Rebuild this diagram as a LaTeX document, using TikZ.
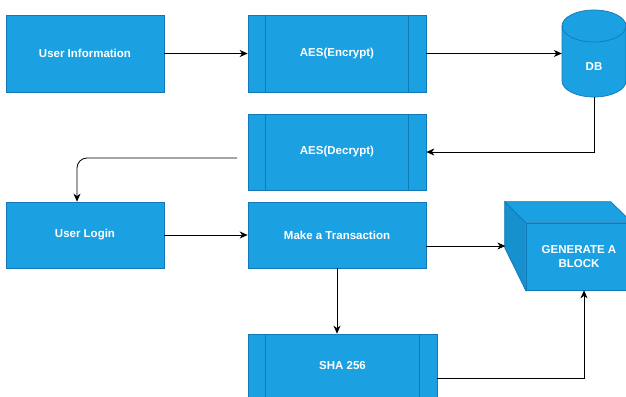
\documentclass[tikz,border=0pt]{standalone}
\usepackage{fontspec}
\setmainfont{Liberation Sans}
\usetikzlibrary{positioning,shapes.geometric,arrows.meta,calc}

\definecolor{boxblue}{HTML}{1BA1E2}
\definecolor{boxline}{HTML}{1278B8}
\definecolor{boxdark}{HTML}{1790CF}

\begin{document}
\begin{tikzpicture}[x=1pt,y=-1pt,
    box/.style={draw=boxline, fill=boxblue, text=white, line width=0.7pt,
        font=\bfseries\fontsize{11.5}{13.5}\selectfont, inner sep=0pt, align=center},
    procline/.style={draw=boxline, line width=0.7pt},
    flow/.style={-{Stealth[length=8pt,width=7pt,inset=2.5pt]}, line width=0.8pt}]
    \useasboundingbox (0,0) rectangle (626,396);

    % first row
    \node[box, minimum width=158pt, minimum height=77pt] (info) at (85,53.5) {User Information};
    \node[box, minimum width=178pt, minimum height=77pt] (enc) at (337,53.5) {AES(Encrypt)};
    \draw[procline] ([xshift=18pt]enc.north west) -- ([xshift=18pt]enc.south west);
    \draw[procline] ([xshift=-18pt]enc.north east) -- ([xshift=-18pt]enc.south east);

    % database
    \node[minimum width=64pt, minimum height=87pt, inner sep=0pt] (db) at (594,53.5) {};
    \filldraw[procline, fill=boxblue] (562,26) -- (562,81)
        arc[start angle=180, end angle=0, x radius=32, y radius=16] -- (626,26)
        arc[start angle=0, end angle=-180, x radius=32, y radius=16] -- cycle;
    \draw[procline] (562,26) arc[start angle=180, end angle=0, x radius=32, y radius=16];
    \node[text=white, font=\bfseries\fontsize{11.5}{13.5}\selectfont] (dbtext) at (594,67) {DB};

    % decrypt
    \node[box, minimum width=178pt, minimum height=76pt] (dec) at (337,152) {AES(Decrypt)};
    \draw[procline] ([xshift=18pt]dec.north west) -- ([xshift=18pt]dec.south west);
    \draw[procline] ([xshift=-18pt]dec.north east) -- ([xshift=-18pt]dec.south east);
    \coordinate (decout) at (237,158);

    % second row
    \node[box, minimum width=158pt, minimum height=66pt] (login) at (85,235) {User Login};
    \node[box, minimum width=178pt, minimum height=66pt] (trans) at (337,235) {Make a Transaction};

    % cube
    \node[box, minimum width=106pt, minimum height=67pt] (block) at (579,256.5) {GENERATE A\\BLOCK};
    \filldraw[procline, fill=boxdark] (block.north west) -- ++(-21,-21) -- ++(0,46)
        -- (block.south west) -- cycle;
    \filldraw[procline, fill=boxblue] (block.north west) -- ++(-21,-21) -- ++(106,0)
        -- (block.north east) -- cycle;

    % hash
    \node[box, minimum width=189pt, minimum height=64pt] (sha) at (342.5,366) {SHA 256};
    \draw[procline] ([xshift=18pt]sha.north west) -- ([xshift=18pt]sha.south west);
    \draw[procline] ([xshift=-18pt]sha.north east) -- ([xshift=-18pt]sha.south east);

    % connectors
    \draw[flow] (info) -- (enc);
    \draw[flow] (enc) -- (db.west |- enc.east);
    \draw[flow] (db.south) |- (dec.east);
    \draw[flow, rounded corners=10pt] (decout) -| ([xshift=-8pt]login.north);
    \draw[flow] (login) -- (trans);
    \draw[flow] ([yshift=-11pt]trans.east) -- ++(79,0);
    \draw[flow] (trans.south) -- (trans.south |- sha.north);
    \draw[flow] ([yshift=-12pt]sha.east) -| ([xshift=5pt]block.south);
\end{tikzpicture}
\end{document}
